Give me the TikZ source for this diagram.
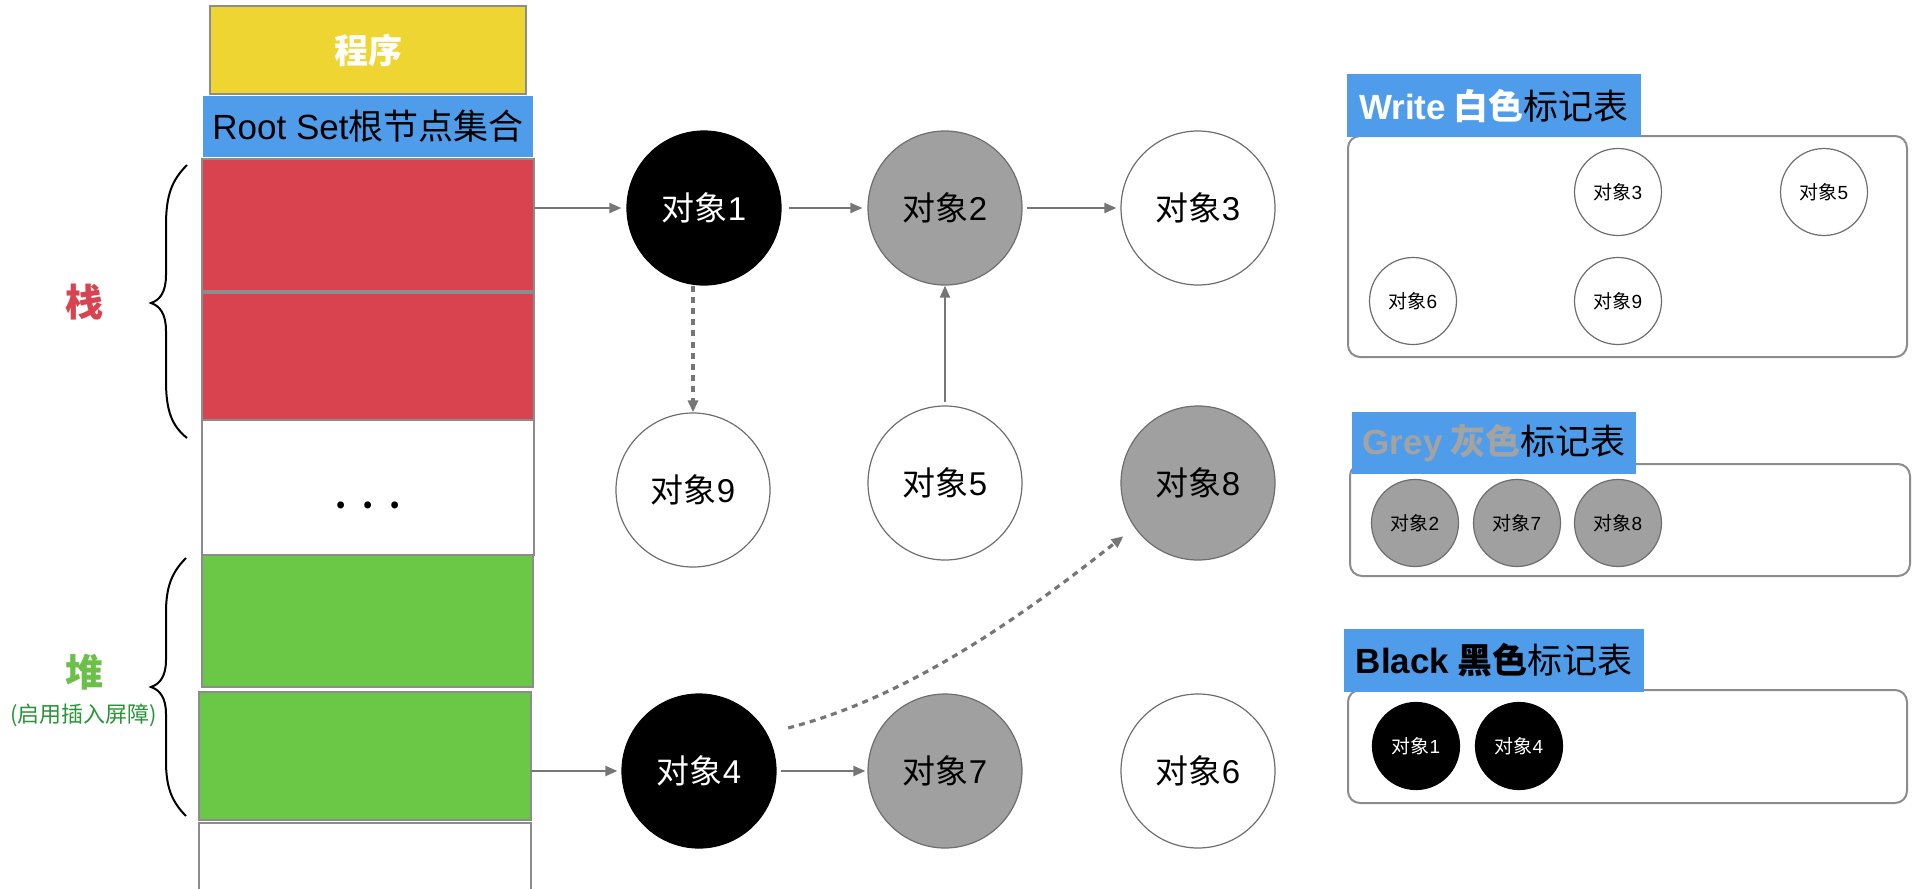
\documentclass[tikz,border=0pt]{standalone}
\usepackage{fontspec}
\setmainfont{Noto Sans CJK SC}
\newfontfamily\lat{Liberation Sans}
\usetikzlibrary{arrows.meta}
\definecolor{cyellow}{HTML}{EED531}
\definecolor{cblue}{HTML}{4F9DEA}
\definecolor{cred}{HTML}{D9434F}
\definecolor{cgreen}{HTML}{6BC847}
\definecolor{cgreentext}{HTML}{6CC04A}
\definecolor{cdarkgreen}{HTML}{2A9439}
\definecolor{cborder}{HTML}{8C8C8C}
\definecolor{carrow}{HTML}{767676}
\definecolor{ccircle}{HTML}{6E6E6E}
\definecolor{cgray}{HTML}{A0A0A0}
\definecolor{cgreytext}{HTML}{A3A3A3}
\newcommand{\objlabel}[1]{对象{\lat #1}}
\begin{document}
\begin{tikzpicture}[x=0.5pt,y=-0.5pt,
  stackbox/.style={draw=cborder,line width=1.1pt,inner sep=0pt,outer sep=0pt,minimum width=166pt},
  obj/.style={circle,draw=ccircle,line width=0.6pt,minimum size=77pt,inner sep=0pt,font=\fontsize{16.5}{18}\selectfont},
  blackobj/.style={obj,fill=black,draw=black,text=white},
  greyobj/.style={obj,fill=cgray},
  whiteobj/.style={obj,fill=white},
  sobj/.style={circle,draw=ccircle,line width=0.6pt,minimum size=43.5pt,inner sep=0pt,font=\fontsize{9.5}{11}\selectfont},
  sblack/.style={sobj,fill=black,draw=black,text=white},
  sgrey/.style={sobj,fill=cgray},
  swhite/.style={sobj,fill=white},
  conn/.style={draw=carrow,line width=1pt,-{Triangle[length=6pt,width=5pt]}},
  dconn/.style={conn,line width=1.6pt,dash pattern=on 3pt off 2.6pt},
  tablebox/.style={draw=cborder,line width=1pt,rounded corners=6pt,inner sep=0pt},
  tablelabel/.style={fill=cblue,inner sep=0pt,font=\fontsize{17.5}{20}\selectfont},
  bracestyle/.style={line width=1pt,black}
]
\useasboundingbox (0,0) rectangle (1919,889);
\clip (0,0) rectangle (1919,889);
\fill[white] (0,0) rectangle (1919,889);

% ---- stack column ----
\node[stackbox,fill=cyellow,minimum width=158pt,minimum height=44pt,text=white,font=\bfseries\fontsize{17}{20}\selectfont] (prog) at (368,50) {程序};
\node[fill=cblue,inner sep=0pt,minimum width=165pt,minimum height=30.5pt,font=\fontsize{17.5}{20}\selectfont] (root) at (368,126.5) {{\lat Root Set}根节点集合};
\node[stackbox,fill=cred,minimum height=66pt] (r1) at (368,225) {};
\node[stackbox,fill=cred,minimum height=63.5pt] (r2) at (368,356.5) {};
\node[stackbox,fill=white,minimum height=67.5pt] (wb) at (368,487.5) {};
\node[font=\bfseries\fontsize{16}{20}\selectfont,inner sep=0pt] (dots) at (368,505) {.\,\,\,.\,\,\,.};
\node[stackbox,fill=cgreen,minimum width=165.5pt,minimum height=66pt] (g1) at (367.5,621) {};
\node[stackbox,fill=cgreen,minimum height=64pt] (g2) at (365,756) {};
\node[stackbox,fill=white,minimum height=40pt] (wb2) at (365,863) {};

% ---- braces and side labels ----
\draw[bracestyle] (187,165) .. controls (172,180) and (166,195) .. (166,225) -- (166,275)
  .. controls (166,292) and (160,300) .. (151,303) .. controls (160,306) and (166,314) .. (166,331)
  -- (166,381) .. controls (166,411) and (172,426) .. (187,438);
\draw[bracestyle] (186,558) .. controls (171,573) and (166,588) .. (166,613) -- (166,660)
  .. controls (166,676) and (160,684) .. (151,687) .. controls (160,690) and (166,698) .. (166,714)
  -- (166,761) .. controls (166,786) and (171,801) .. (186,816);
\node[text=cred,font=\bfseries\fontsize{19}{22}\selectfont] (stacklab) at (84,302) {栈};
\node[text=cgreentext,font=\bfseries\fontsize{19}{22}\selectfont] (heaplab) at (84,672) {堆};
\node[text=cdarkgreen,font=\fontsize{11}{13}\selectfont] (heapsub) at (84,715) {(启用插入屏障)};

% ---- object graph ----
\node[blackobj] (n1) at (704,208) {\objlabel{1}};
\node[greyobj]  (n2) at (945,208) {\objlabel{2}};
\node[whiteobj] (n3) at (1198,208) {\objlabel{3}};
\node[whiteobj] (n9) at (693,490) {\objlabel{9}};
\node[whiteobj] (n5) at (945,483) {\objlabel{5}};
\node[greyobj]  (n8) at (1198,483) {\objlabel{8}};
\node[blackobj] (n4) at (699,771) {\objlabel{4}};
\node[greyobj]  (n7) at (945,771) {\objlabel{7}};
\node[whiteobj] (n6) at (1198,771) {\objlabel{6}};

\draw[conn,shorten >=2.5pt] (r1.east |- n1) -- (n1);
\draw[conn,shorten <=3.5pt,shorten >=2.5pt] (n1) -- (n2);
\draw[conn,shorten <=2pt,shorten >=2pt] (n2) -- (n3);
\draw[dconn] (n9.north |- n1.south) -- (n9.north);
\draw[conn,shorten <=1.5pt] (n5) -- (n2);
\draw[conn,shorten >=2pt] (g2.east |- n4) -- (n4);
\draw[conn,shorten <=2pt,shorten >=1pt] (n4) -- (n7);
\draw[dconn,shorten <=11pt,shorten >=7pt] (n4.29) .. controls (913,696) and (1030,610) .. (n8.215);

% ---- mark tables ----
\node[tablebox,minimum width=279.5pt,minimum height=110.5pt] (wbox) at (1627.5,246.5) {};
\node[tablelabel,minimum width=147pt,minimum height=31.5pt] (wlab) at (1494,105.5)
  {{\lat\bfseries\color{white}Write} {\bfseries\color{white}白色}标记表};
\node[swhite] (s3) at (1618,192) {\objlabel{3}};
\node[swhite] (s5) at (1824,192) {\objlabel{5}};
\node[swhite] (s6) at (1413,301) {\objlabel{6}};
\node[swhite] (s9) at (1618,301) {\objlabel{9}};

\node[tablebox,minimum width=280pt,minimum height=56pt] (gbox) at (1630,520) {};
\node[tablelabel,minimum width=142pt,minimum height=31pt] (glab) at (1494,443)
  {{\lat\bfseries\color{cgreytext}Grey} {\bfseries\color{cgreytext}灰色}标记表};
\node[sgrey] (s2) at (1415,523) {\objlabel{2}};
\node[sgrey] (s7) at (1517,523) {\objlabel{7}};
\node[sgrey] (s8) at (1618,523) {\objlabel{8}};

\node[tablebox,minimum width=279.5pt,minimum height=56.5pt] (bbox) at (1627.5,746.5) {};
\node[tablelabel,minimum width=150pt,minimum height=31.5pt] (blab) at (1494,660.5)
  {{\lat\bfseries Black} {\bfseries 黑色}标记表};
\node[sblack] (s1) at (1416,746) {\objlabel{1}};
\node[sblack] (s4) at (1519,746) {\objlabel{4}};
\end{tikzpicture}
\end{document}
